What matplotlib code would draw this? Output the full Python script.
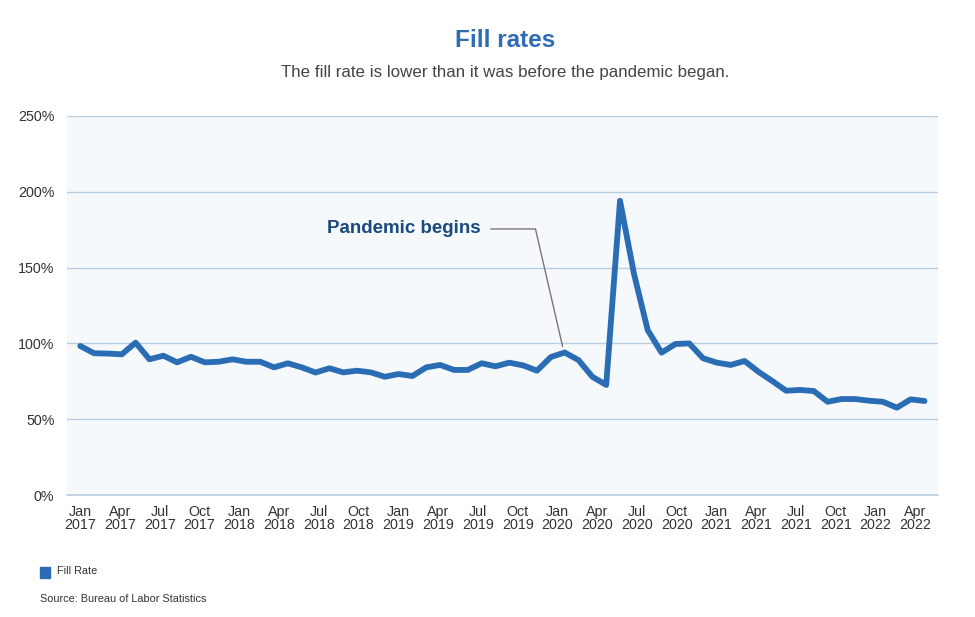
import numpy as np
import matplotlib.pyplot as plt

plt.rcParams['font.family'] = ['Liberation Sans', 'DejaVu Sans']

# monthly fill rate (%)
fill_rate = [98.3, 93.5, 93.3, 92.8, 100.5, 89.5, 91.9, 87.5, 91.2, 87.5,
             87.9, 89.5, 87.9, 87.9, 84.2, 86.9, 84.2, 80.8, 83.6, 80.9,
             82.0, 80.9, 78.0, 79.8, 78.5, 84.2, 85.8, 82.5, 82.5, 86.9,
             84.9, 87.3, 85.5, 82.0, 91.0, 94.0, 89.0, 78.0, 72.6, 194.1,
             146.2, 108.8, 93.9, 99.6, 100.0, 90.2, 87.3, 85.8, 88.4, 81.3,
             75.2, 68.8, 69.3, 68.6, 61.5, 63.3, 63.3, 62.2, 61.5, 57.6,
             63.1, 62.0]
months = np.arange(len(fill_rate))

tick_labels = []
for yr in range(2017, 2023):
    for m in ['Jan', 'Apr', 'Jul', 'Oct']:
        tick_labels.append(f'{m}\n{yr}')
tick_labels = tick_labels[:22]
tick_pos = np.arange(len(tick_labels)) * 2.873

y_ticks = [0, 50, 100, 150, 200, 250]

blue = '#2b6db5'

fig = plt.figure(figsize=(9.75, 6.17), dpi=100)
ax = fig.add_axes([0.0687, 0.1977, 0.893, 0.6143])
ax.set_facecolor('#f6f9fc')

ax.plot(months, fill_rate, color=blue, lw=4.2, solid_joinstyle='round',
        solid_capstyle='round', zorder=3)

ax.set_xlim(-0.96, 61.95)
ax.set_ylim(0, 250)
ax.set_yticks(y_ticks)
ax.set_yticklabels([f'{v}%' for v in y_ticks])
ax.set_xticks(tick_pos)
ax.set_xticklabels(tick_labels, linespacing=0.95)
ax.tick_params(axis='both', length=0, labelsize=10.3, labelcolor='#333333')
ax.tick_params(axis='y', pad=9)
ax.tick_params(axis='x', pad=7)
ax.grid(axis='y', color='#b8cde0', lw=1)
ax.axhline(0, color='#b8cde0', lw=1.2, clip_on=False, zorder=1)
ax.set_axisbelow(True)
for s in ax.spines.values():
    s.set_visible(False)

# pandemic note
ax.annotate('Pandemic begins', xy=(months[35] - 0.15, fill_rate[35] + 4),
            xytext=(28.95, 175.5), ha='right', va='center',
            fontsize=13.5, fontweight='bold', color='#1b4a7c',
            arrowprops=dict(arrowstyle='-', color='#777777', lw=1,
                            connectionstyle='angle,angleA=0,angleB=103,rad=0',
                            relpos=(1, 0.5), shrinkA=5, shrinkB=0))

fig.text(0.518, 0.935, 'Fill rates', ha='center', va='center',
         fontsize=17.5, fontweight='bold', color='#2e6db4')
fig.text(0.518, 0.882, 'The fill rate is lower than it was before the pandemic began.',
         ha='center', va='center', fontsize=12.2, color='#444444')

# legend
fig.patches.append(plt.Rectangle((40 / 975, 1 - 578 / 617), 10 / 975, 11 / 617,
                                 transform=fig.transFigure, color=blue))
fig.text(57 / 975, 1 - 571 / 617, 'Fill Rate', ha='left', va='center',
         fontsize=7.8, color='#333333')
fig.text(40 / 975, 1 - 599 / 617, 'Source: Bureau of Labor Statistics', ha='left',
         va='center', fontsize=7.8, color='#333333')

fig.savefig('out.png', dpi=100, facecolor='white')
